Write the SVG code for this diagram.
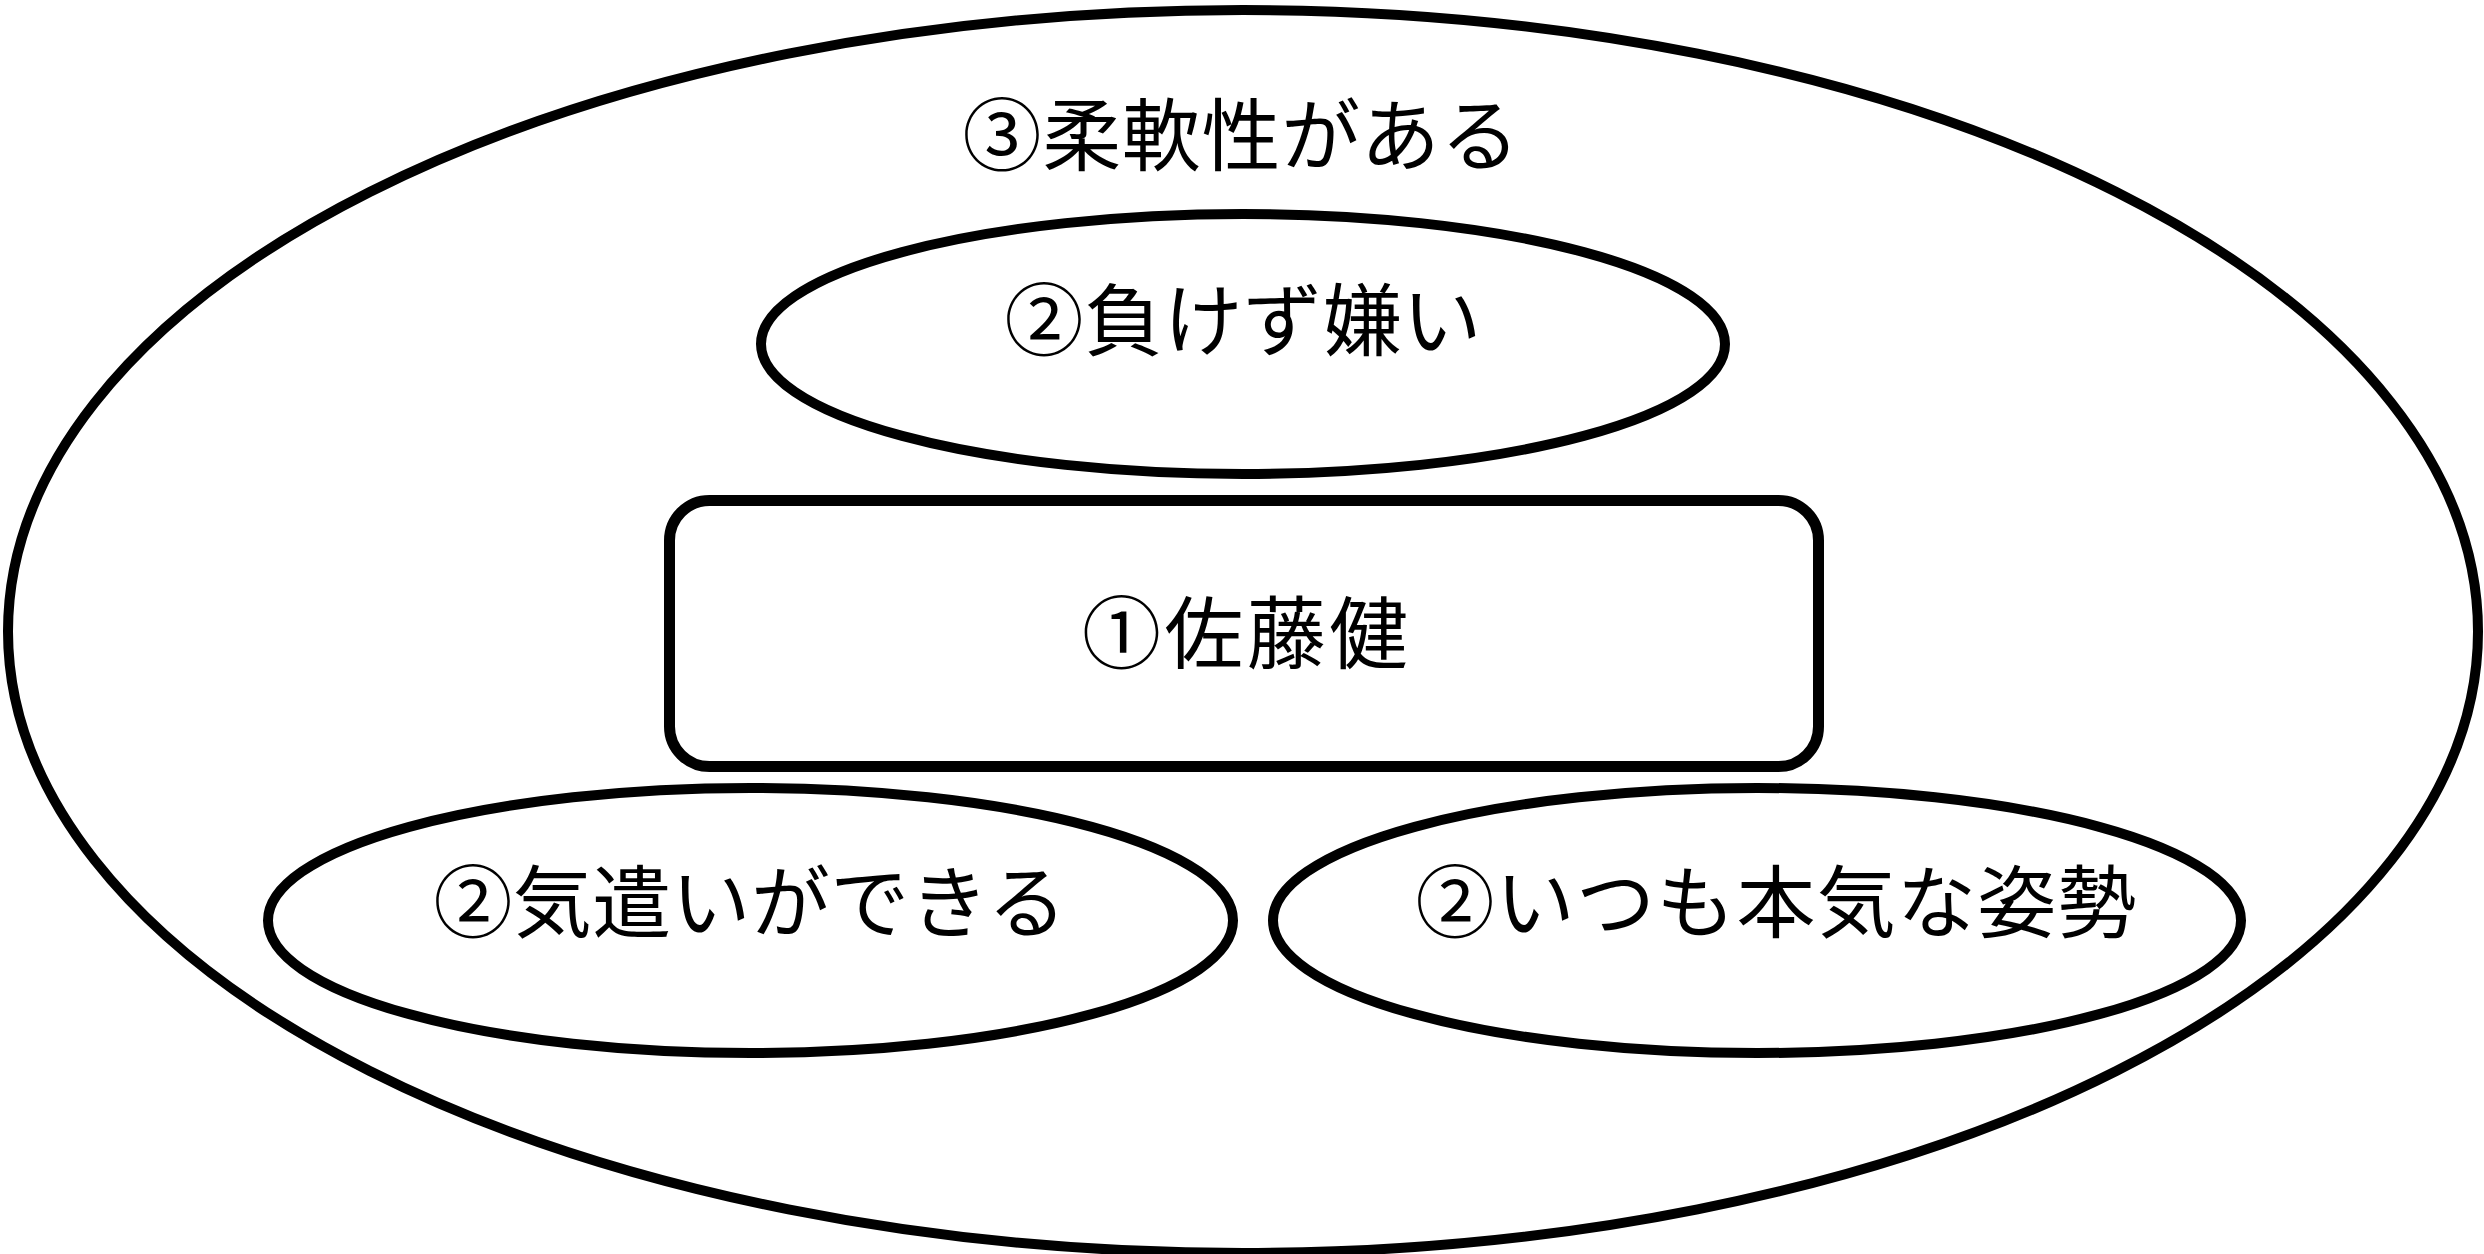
<svg xmlns="http://www.w3.org/2000/svg" width="2484" height="1254" viewBox="0 0 2484 1254">
<style>
.shape{fill:#ffffff;stroke:#000000;stroke-width:10}
.box{fill:#ffffff;stroke:#000000;stroke-width:11}
.lbl{font-family:"Noto Sans CJK JP","Noto Sans CJK SC",sans-serif;font-size:79px;fill:#000000;text-anchor:middle}
</style>
<rect x="0" y="0" width="2484" height="1254" fill="#ffffff"/>
<g id="outer">
<ellipse class="shape" cx="1243" cy="631.5" rx="1235" ry="621.5"/>
<text class="lbl" x="1241" y="165" textLength="557" lengthAdjust="spacing">③柔軟性がある</text>
</g>
<g id="top">
<ellipse class="shape" cx="1243" cy="344" rx="482" ry="130"/>
<text class="lbl" x="1243" y="350" textLength="477" lengthAdjust="spacing">②負けず嫌い</text>
</g>
<g id="center">
<rect class="box" x="669.5" y="500.5" width="1149" height="266" rx="40" ry="40"/>
<text class="lbl" x="1245" y="663" textLength="326" lengthAdjust="spacing">①佐藤健</text>
</g>
<g id="left">
<ellipse class="shape" cx="750.5" cy="920.5" rx="482.5" ry="132.5"/>
<text class="lbl" x="750" y="932" textLength="633" lengthAdjust="spacing">②気遣いができる</text>
</g>
<g id="right">
<ellipse class="shape" cx="1757" cy="920.5" rx="484" ry="132.5"/>
<text class="lbl" x="1776" y="932" textLength="721" lengthAdjust="spacing">②いつも本気な姿勢</text>
</g>
<g id="connectors"></g>
</svg>
